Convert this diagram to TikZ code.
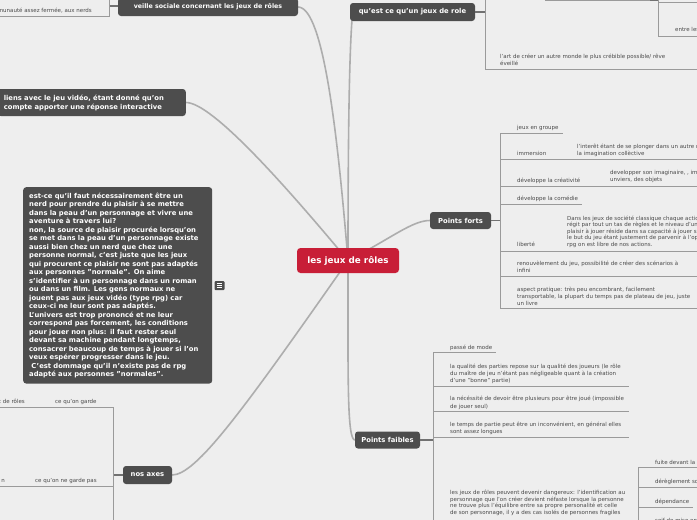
\documentclass[tikz,border=0pt]{standalone}
\usepackage{fontspec}
\setmainfont{DejaVu Sans}
\definecolor{bg}{HTML}{EEEEEE}
\definecolor{dark}{HTML}{4D4D4D}
\definecolor{redc}{RGB}{200,30,55}
\definecolor{conn}{HTML}{ADADAD}
\definecolor{barc}{HTML}{9A9A9A}
\definecolor{txt}{HTML}{4A4A4A}
\begin{document}
\begin{tikzpicture}[x=1pt,y=-1pt,
  topic/.style={fill=dark, rounded corners=3pt, text=white, inner sep=0pt,
    font=\fontsize{6.8}{8}\selectfont\bfseries},
  leaf/.style={text=txt, inner sep=0pt, align=left, anchor=base west,
    font=\fontsize{5.5}{6.6}\selectfont},
  leafr/.style={leaf, anchor=base east, align=right},
  conn/.style={draw=conn, line width=1.6pt},
  bar/.style={draw=barc, line width=0.9pt},
  stub/.style={draw=dark!80, line width=1.4pt}
]
\useasboundingbox (0,0) rectangle (697,520);
\fill[bg] (0,0) rectangle (697,520);
\clip (0,0) rectangle (697,520);

% ---------- main nodes (coordinates) ----------
\coordinate (cc) at (348,260.5);

% ---------- connectors (behind) ----------
\coordinate (veilleE) at (298,7);
\coordinate (liensE) at (186,102.5);
\coordinate (questS) at (352,20);
\coordinate (fortsW) at (430,220.5);
\coordinate (faiblesW) at (355,440);
\coordinate (axesE) at (172,475);
\draw[conn] (cc) .. controls (338,140) and (324,7) .. (veilleE);
\draw[conn] (cc) .. controls (285,185) and (212,102.5) .. (liensE);
\draw[conn] (cc) .. controls (348,150) and (349,60) .. (questS);
\draw[conn] (cc) .. controls (392,238) and (412,220.5) .. (fortsW);
\draw[conn] (cc) .. controls (348,380) and (347,440) .. (faiblesW);
\draw[conn] (cc) .. controls (242,412) and (196,475) .. (axesE);

% ---------- topic nodes ----------
\node[fill=redc, rounded corners=3.5pt, text=white, inner sep=0pt,
  minimum width=102pt, minimum height=25pt,
  font=\fontsize{8.8}{10}\selectfont\bfseries] (central) at (cc) {les jeux de rôles};
\node[topic, minimum width=180pt, minimum height=18pt,
  font=\fontsize{6.3}{8}\selectfont\bfseries] (veille) at (208,7)
  {veille sociale concernant les jeux de rôles};
\node[topic, anchor=east, text width=176pt, align=left, inner xsep=6pt,
  minimum height=27pt, font=\fontsize{6.8}{9}\selectfont\bfseries] (liens) at (liensE)
  {liens avec le jeu vidéo, étant donné qu'on\\compte apporter une réponse interactive};
\node[topic, minimum width=125pt, minimum height=18pt] (quest) at (412.5,12)
  {qu'est ce qu'un jeux de role};
\node[topic, minimum width=61pt, minimum height=17pt] (forts) at (460.5,220.5)
  {Points forts};
\node[topic, minimum width=65pt, minimum height=17pt] (faibles) at (387.5,440)
  {Points faibles};
\node[topic, minimum width=49pt, minimum height=18pt] (axes) at (147.5,475)
  {nos axes};

% ---------- note ----------
\node[topic, anchor=north west, text width=177pt, align=left, inner xsep=6pt,
  inner ysep=5.5pt, font=\fontsize{6.8}{8.5}\selectfont\bfseries] (note) at (23,187)
{est-ce qu'il faut nécessairement être un\\
nerd pour prendre du plaisir à se mettre\\
dans la peau d'un personnage et vivre une\\
aventure à travers lui?\\
non, la source de plaisir procurée lorsqu'on\\
se met dans la peau d'un personnage existe\\
aussi bien chez un nerd que chez une\\
personne normal, c'est juste que les jeux\\
qui procurent ce plaisir ne sont pas adaptés\\
aux personnes "normale". On aime\\
s'identifier à un personnage dans un roman\\
ou dans un film. Les gens normaux ne\\
jouent pas aux jeux vidéo (type rpg) car\\
ceux-ci ne leur sont pas adaptés.\\
L'univers est trop prononcé et ne leur\\
correspond pas forcement, les conditions\\
pour jouer non plus: il faut rester seul\\
devant sa machine pendant longtemps,\\
consacrer beaucoup de temps à jouer si l'on\\
veux espérer progresser dans le jeu.\\
\ C'est dommage qu'il n'existe pas de rpg\\
adapté aux personnes "normales".};
\node[fill=dark, rounded corners=1pt, minimum width=10pt, minimum height=9pt,
  inner sep=0pt] (icon) at (219.5,285.5) {};
\foreach \dy in {-2.2,0,2.2}
  \draw[white, line width=0.6pt] ([xshift=-2.8pt,yshift=\dy pt]icon.center) -- ++(5.6,0);

% ---------- veille sociale (left) ----------
\draw[stub] (veille.west |- 0,6) -- (109,6);
\draw[bar] (109,-5) -- (109,16) -- (0,16);
\node[leafr] (nerds) at (92,12) {communauté assez fermée, aux nerds};

% ---------- qu'est ce qu'un jeux de role ----------
\draw[stub] (quest.east) -- (485,12);
\draw[bar] (485,-5) -- (485,69) -- (697,69);
\node[leaf] (art) at (500,65.5) {l'art de créer un autre monde le plus crébible possible/ rêve\\éveillé};
\draw[bar] (545,0.5) -- (650,0.5);
\draw[stub] (650,0.5) -- (658,0.5);
\draw[bar] (697,2.5) -- (658,2.5) -- (658,-5);
\draw[bar] (658,2.5) -- (658,36) -- (697,36);
\node[leaf] (entre) at (675,31.5) {entre les};

% ---------- Points forts ----------
\draw[stub] (forts.east) -- (500,220.5);
\draw[bar] (500,133) -- (500,308);
\draw[bar] (500,133) -- (563,133);
\draw[bar] (500,159) -- (697,159);
\draw[bar] (500,186) -- (697,186);
\draw[bar] (500,204) -- (582,204);
\draw[bar] (500,251) -- (697,251);
\draw[bar] (500,276) -- (697,276);
\draw[bar] (500,308) -- (697,308);
\node[leaf] (f1) at (517,129) {jeux en groupe};
\node[leaf] (f2) at (517,155.5) {immersion};
\node[leaf] (f2a) at (577,155.5) {l'interêt étant de se plonger dans un autre monde\\la imagination collèctive};
\node[leaf] (f3) at (517,182) {développe la créativité};
\node[leaf] (f3a) at (610,181.5) {developper son imaginaire, , imaginer\\unviers, des objets};
\node[leaf] (f4) at (517,200.5) {développe la comédie};
\node[leaf] (f5) at (517,246.5) {liberté};
\node[leaf, font=\fontsize{5.5}{6.4}\selectfont] (f5a) at (567,246)
  {Dans les jeux de société classique chaque action\\
   régit par tout un tas de règles et le niveau d'un\\
   plaisir à jouer réside dans sa capacité à jouer selon\\
   le but du jeu étant justement de parvenir à l'op\\
   rpg on est libre de nos actions.};
\node[leaf] (f6) at (517,272) {renouvèlement du jeu, possibilité de créer des scénarios à\\infini};
\node[leaf] (f7) at (517,305) {aspect pratique: très peu encombrant, facilement\\transportable, la plupart du temps pas de plateau de jeu, juste\\un livre};

% ---------- Points faibles ----------
\draw[stub] (faibles.east) -- (433,440);
\draw[bar] (433,352) -- (433,525);
\draw[bar] (433,352) -- (496,352);
\draw[bar] (433,386) -- (629,386);
\draw[bar] (433,411) -- (629,411);
\draw[bar] (433,437) -- (629,437);
\node[leaf] (w1) at (450,349) {passé de mode};
\node[leaf] (w2) at (450,382) {la qualité des parties repose sur la qualité des joueurs (le rôle\\du maître de jeu n'étant pas négligeable quant à la création\\d'une "bonne" partie)};
\node[leaf, font=\fontsize{5.5}{7.2}\selectfont] (w3) at (450,408) {la nécéssité de devoir être plusieurs pour être joué (impossible\\de jouer seul)};
\node[leaf] (w4) at (450,433.5) {le temps de partie peut être un inconvénient, en général elles\\sont assez longues};
\node[leaf] (w5) at (450,514.5) {les jeux de rôles peuvent devenir dangereux: l'identification au\\personnage que l'on créer devient néfaste lorsque la personne\\ne trouve plus l'équilibre entre sa propre personalité et celle\\de son personnage, il y a des cas isolés de personnes fragiles};
\draw[bar] (638,467) -- (638,525);
\draw[bar] (638,467) -- (697,467);
\draw[bar] (638,487) -- (697,487);
\draw[bar] (638,507) -- (693,507);
\node[leaf] (d1) at (655,464) {fuite devant la réalité};
\node[leaf] (d2) at (655,483.5) {dérèglement social};
\node[leaf] (d3) at (655,503) {dépendance};
\node[leaf] (d4) at (655,522.5) {soif de mise en scène};

% ---------- nos axes ----------
\draw[stub] (axes.west) -- (113,475);
\draw[bar] (113,407) -- (113,525);
\draw[bar] (0,407) -- (113,407);
\draw[bar] (0,486.5) -- (113,486.5);
\node[leaf] (a1) at (55,403) {ce qu'on garde};
\node[leafr] (a1a) at (25,403) {c de rôles};
\node[leaf] (a2) at (35,482) {ce qu'on ne garde pas};
\node[leafr] (a2a) at (5,482) {n};
\end{tikzpicture}
\end{document}
